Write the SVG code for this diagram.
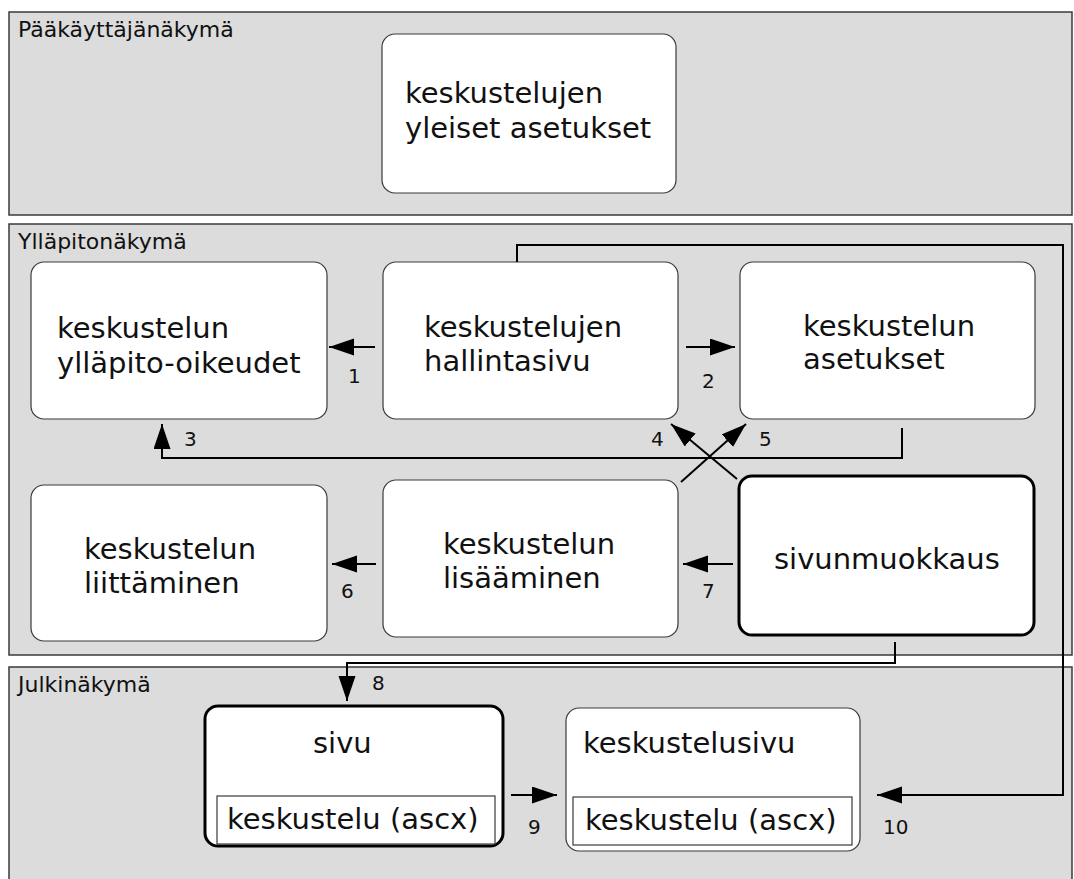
<svg xmlns="http://www.w3.org/2000/svg" width="1074" height="879" viewBox="0 0 1074 879">
<style>
.panel{fill:#dcdcdc;stroke:#3a3a3a;stroke-width:1.5}
.ptitle{font-family:"DejaVu Sans",Verdana,sans-serif;font-size:22px;fill:#111}
.box{fill:#fff;stroke:#3a3a3a;stroke-width:1.2}
.bold{fill:#fff;stroke:#000;stroke-width:3}
.inner{fill:#fff;stroke:#3a3a3a;stroke-width:1.2}
.t{font-family:"DejaVu Sans",Verdana,sans-serif;font-size:29px;fill:#111}
.lbl{font-family:"DejaVu Sans",Verdana,sans-serif;font-size:20px;fill:#111}
.c{fill:none;stroke:#000;stroke-width:2}
</style>
<defs>
<marker id="ah" markerUnits="userSpaceOnUse" markerWidth="26" markerHeight="18" refX="25" refY="8.5" orient="auto">
<path d="M0,0 L25,8.5 L0,17 z" fill="#000"/>
</marker>
</defs>

<g id="panel-paakayttaja">
<rect class="panel" x="9" y="12" width="1063" height="203"/>
<text class="ptitle" x="18" y="37">Pääkäyttäjänäkymä</text>
</g>
<g id="panel-yllapito">
<rect class="panel" x="9" y="224" width="1063" height="431"/>
<text class="ptitle" x="18" y="249">Ylläpitonäkymä</text>
</g>
<g id="panel-julki">
<rect class="panel" x="9" y="667" width="1063" height="230"/>
<text class="ptitle" x="18" y="692">Julkinäkymä</text>
</g>

<g id="node-yleiset">
<rect class="box" x="382" y="34" width="294" height="159" rx="13"/>
<text class="t" x="405" y="103">keskustelujen</text>
<text class="t" x="405" y="138">yleiset asetukset</text>
</g>
<g id="node-oikeudet">
<rect class="box" x="31" y="262" width="296" height="157" rx="13"/>
<text class="t" x="57" y="338">keskustelun</text>
<text class="t" x="57" y="373">ylläpito-oikeudet</text>
</g>
<g id="node-hallintasivu">
<rect class="box" x="383" y="262" width="295" height="157" rx="13"/>
<text class="t" x="424" y="337">keskustelujen</text>
<text class="t" x="424" y="371">hallintasivu</text>
</g>
<g id="node-asetukset">
<rect class="box" x="740" y="262" width="295" height="157" rx="13"/>
<text class="t" x="803" y="336">keskustelun</text>
<text class="t" x="803" y="369">asetukset</text>
</g>
<g id="node-liittaminen">
<rect class="box" x="31" y="485" width="296" height="156" rx="13"/>
<text class="t" x="84" y="559">keskustelun</text>
<text class="t" x="84" y="593">liittäminen</text>
</g>
<g id="node-lisaaminen">
<rect class="box" x="383" y="480" width="295" height="157" rx="13"/>
<text class="t" x="443" y="554">keskustelun</text>
<text class="t" x="443" y="588">lisääminen</text>
</g>
<g id="node-sivunmuokkaus">
<rect class="bold" x="739" y="476" width="295" height="159" rx="13"/>
<text class="t" x="774" y="569">sivunmuokkaus</text>
</g>
<g id="node-sivu">
<rect class="bold" x="205" y="706" width="298" height="140" rx="13"/>
<text class="t" x="313" y="753">sivu</text>
<rect class="inner" x="217" y="796" width="278" height="48"/>
<text class="t" x="227" y="829">keskustelu (ascx)</text>
</g>
<g id="node-keskustelusivu">
<rect class="box" x="566" y="708" width="294" height="143" rx="13"/>
<text class="t" x="583" y="753">keskustelusivu</text>
<rect class="inner" x="573" y="797" width="279" height="48"/>
<text class="t" x="585" y="830">keskustelu (ascx)</text>
</g>

<g id="connectors">
<line class="c" x1="375" y1="347" x2="329" y2="347" marker-end="url(#ah)"/>
<line class="c" x1="686" y1="347" x2="735" y2="347" marker-end="url(#ah)"/>
<polyline class="c" points="902,428 902,458 162,458 162,424" marker-end="url(#ah)"/>
<line class="c" x1="737" y1="479" x2="671" y2="424" marker-end="url(#ah)"/>
<line class="c" x1="681" y1="482" x2="746" y2="424" marker-end="url(#ah)"/>
<line class="c" x1="376" y1="564" x2="332" y2="564" marker-end="url(#ah)"/>
<line class="c" x1="733" y1="564" x2="683" y2="564" marker-end="url(#ah)"/>
<polyline class="c" points="895,642 895,663 347,663 347,701" marker-end="url(#ah)"/>
<line class="c" x1="511" y1="795" x2="557" y2="795" marker-end="url(#ah)"/>
<polyline class="c" points="517,262 517,245 1063,245 1063,795 877,795" marker-end="url(#ah)"/>
<text class="lbl" x="348" y="383">1</text>
<text class="lbl" x="702" y="388">2</text>
<text class="lbl" x="184" y="446">3</text>
<text class="lbl" x="651" y="446">4</text>
<text class="lbl" x="759" y="446">5</text>
<text class="lbl" x="341" y="598">6</text>
<text class="lbl" x="702" y="598">7</text>
<text class="lbl" x="372" y="690">8</text>
<text class="lbl" x="528" y="834">9</text>
<text class="lbl" x="883" y="834">10</text>
</g>
</svg>
